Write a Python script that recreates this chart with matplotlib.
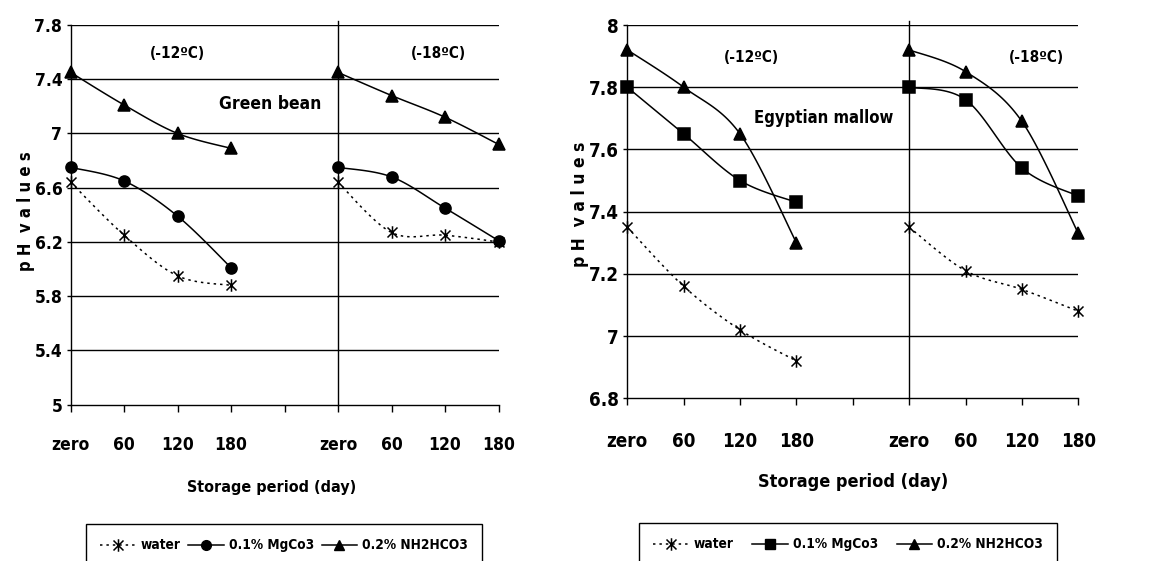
import numpy as np
import matplotlib
matplotlib.use("Agg")
import matplotlib.pyplot as plt
from matplotlib.path import Path
from matplotlib.lines import Line2D
from matplotlib import font_manager as fm

# ---------------- data ----------------
x_labels = ['zero', '60', '120', '180', '', 'zero', '60', '120', '180']
group_12_idx = [0, 1, 2, 3]
group_18_idx = [5, 6, 7, 8]
series_names = ['water', '0.1% MgCo3', '0.2% NH2HCO3']

# Green bean
gb_water_12 = [6.64, 6.25, 5.95, 5.88]
gb_water_18 = [6.64, 6.27, 6.25, 6.20]
gb_mg_12 = [6.75, 6.65, 6.39, 6.01]
gb_mg_18 = [6.75, 6.68, 6.45, 6.21]
gb_nh_12 = [7.45, 7.21, 7.00, 6.89]
gb_nh_18 = [7.45, 7.28, 7.12, 6.92]
gb_yticks = [5.0, 5.4, 5.8, 6.2, 6.6, 7.0, 7.4, 7.8]
gb_yticklabels = ['5', '5.4', '5.8', '6.2', '6.6', '7', '7.4', '7.8']

# Egyptian mallow
em_water_12 = [7.35, 7.16, 7.02, 6.92]
em_water_18 = [7.35, 7.21, 7.15, 7.08]
em_mg_12 = [7.80, 7.65, 7.50, 7.43]
em_mg_18 = [7.80, 7.76, 7.54, 7.45]
em_nh_12 = [7.92, 7.80, 7.65, 7.30]
em_nh_18 = [7.92, 7.85, 7.69, 7.33]
em_yticks = [6.8, 7.0, 7.2, 7.4, 7.6, 7.8, 8.0]
em_yticklabels = ['6.8', '7', '7.2', '7.4', '7.6', '7.8', '8']

# ---------------- font: prefer a narrow bold face ----------------
def pick_narrow():
    cands = []
    for f in fm.fontManager.ttflist:
        low = (f.fname + ' ' + f.name).lower()
        if ('narrow' in low or 'condensed' in low) and 'italic' not in low \
                and 'oblique' not in low and 'light' not in low:
            pri = 3
            if 'liberation' in low:
                pri = 0
            elif 'arial' in low:
                pri = 1
            elif 'dejavu' in low and 'sans' in low and 'mono' not in low:
                pri = 2
            boldness = 0 if 'bold' in low else 1
            cands.append((pri, boldness, f))
    if not cands:
        return None
    cands.sort(key=lambda c: (c[0], c[1]))
    return cands[0][2]

entry = pick_narrow()
if entry is not None:
    plt.rcParams['font.family'] = [entry.name, 'Liberation Sans', 'DejaVu Sans']
    plt.rcParams['font.stretch'] = entry.stretch
    SC = 1.0
else:
    plt.rcParams['font.family'] = ['Liberation Sans', 'DejaVu Sans']
    SC = 0.9
plt.rcParams['font.weight'] = 'bold'

# ---------------- helpers ----------------
W, H = 1149, 561
fig = plt.figure(figsize=(W / 100, H / 100), dpi=100)


def axrect(l, t, r, b):
    return [l / W, 1 - b / H, (r - l) / W, (b - t) / H]


def smooth(xs, ys, n=24):
    P = np.column_stack([xs, ys]).astype(float)
    out = [P[0]]
    for i in range(len(P) - 1):
        p0 = P[i - 1] if i > 0 else P[i]
        p1, p2 = P[i], P[i + 1]
        p3 = P[i + 2] if i + 2 < len(P) else P[i + 1]
        m1 = (p2 - p0) / 2
        m2 = (p3 - p1) / 2
        t = np.linspace(0, 1, n)[1:, None]
        h00 = 2 * t**3 - 3 * t**2 + 1
        h10 = t**3 - 2 * t**2 + t
        h01 = -2 * t**3 + 3 * t**2
        h11 = t**3 - t**2
        out.extend(h00 * p1 + h10 * m1 + h01 * p2 + h11 * m2)
    out = np.array(out)
    return out[:, 0], out[:, 1]


star = Path([(-1, -1), (1, 1), (-1, 1), (1, -1), (0, -1.25), (0, 1.25)],
            [Path.MOVETO, Path.LINETO] * 3)

water_style = dict(color='black', lw=1.1, ls=(0, (1.6, 2.6)))
solid_style = dict(color='black', lw=1.1, ls='-')


def draw_panel(rect, yticks, yticklabels, ylim, series, mid_marker,
               tick_fs, xpad, annotations, xlabel_pos, ylabel_pos, label_fs):
    ax = fig.add_axes(axrect(*rect))
    ax.set_xlim(0, len(x_labels) - 1)
    ax.set_ylim(*ylim)
    for s in ['top', 'right']:
        ax.spines[s].set_visible(False)
    for s in ['left', 'bottom']:
        ax.spines[s].set_linewidth(1.0)
    ax.set_yticks(yticks)
    ax.set_yticklabels(yticklabels, fontsize=tick_fs * SC, fontweight='bold')
    ax.set_xticks(range(len(x_labels)))
    ax.set_xticklabels(x_labels, fontsize=tick_fs * SC, fontweight='bold')
    ax.tick_params(axis='x', length=5, width=1, pad=xpad, direction='out')
    ax.tick_params(axis='y', length=3, width=1, pad=3, direction='out')
    for yv in yticks[1:]:
        ax.axhline(yv, color='black', lw=1.0, zorder=1)
    ax.axvline(group_18_idx[0], ymin=0, ymax=1.01, color='black', lw=1.0,
               clip_on=False, zorder=1)

    markers = [star, 'o', '^']
    msizes = [9, 8, 8.5]
    for k, (v12, v18) in enumerate(series):
        style = water_style if k == 0 else solid_style
        if k == 1:
            mk, ms = mid_marker
        else:
            mk, ms = markers[k], msizes[k]
        for idx, vals in ((group_12_idx, v12), (group_18_idx, v18)):
            sx, sy = smooth(idx, vals)
            ax.plot(sx, sy, zorder=3, **style)
            ax.plot(idx, vals, ls='none', marker=mk, ms=ms, color='black',
                    mfc='black' if k else 'none', mec='black', mew=1.1,
                    zorder=4, clip_on=False)

    for (tx, ty, txt, fs) in annotations:
        ax.text(tx, ty, txt, ha='center', va='center', fontsize=fs * SC,
                fontweight='bold')

    ax.set_xlabel('Storage period (day)', fontsize=label_fs[0] * SC, fontweight='bold')
    ax.xaxis.set_label_coords(*xlabel_pos)
    ax.xaxis.label.set_va('center')
    ax.set_ylabel('p H  v a l u e s', fontsize=label_fs[1] * SC, fontweight='bold')
    ax.yaxis.set_label_coords(*ylabel_pos)
    ax.yaxis.label.set_va('center')
    return ax


# Left panel: Green bean
draw_panel((70.7, 25, 498.5, 404.7), gb_yticks, gb_yticklabels, (5.0, 7.8),
           [(gb_water_12, gb_water_18), (gb_mg_12, gb_mg_18), (gb_nh_12, gb_nh_18)],
           ('o', 8), 12.5, 17.5,
           [(2.0, 7.59, '(-12ºC)', 11), (6.88, 7.59, '(-18ºC)', 11),
            (3.73, 7.22, 'Green bean', 12.5)],
           (0.47, -0.219), (-0.1045, 0.51), (11.5, 12))

# Right panel: Egyptian mallow
draw_panel((627.3, 25, 1078.3, 398.3), em_yticks, em_yticklabels, (6.8, 8.0),
           [(em_water_12, em_water_18), (em_mg_12, em_mg_18), (em_nh_12, em_nh_18)],
           ('s', 8), 13.5, 19,
           [(2.2, 7.894, '(-12ºC)', 11), (7.26, 7.894, '(-18ºC)', 11),
            (3.49, 7.70, 'Egyptian mallow', 12)],
           (0.50, -0.2234), (-0.105, 0.52), (13, 12.5))


# Legends (frames run off the bottom edge, as in the reference)
def make_handles(mid_marker):
    return [
        Line2D([], [], marker=star, ms=9, mfc='none', mec='black', mew=1.1, **water_style),
        Line2D([], [], marker=mid_marker, ms=7, mfc='black', mec='black', **solid_style),
        Line2D([], [], marker='^', ms=7.5, mfc='black', mec='black', **solid_style),
    ]


for (l, r, t, mk) in [(86, 482, 524, 'o'), (639, 1057, 523, 's')]:
    leg = fig.legend(make_handles(mk), series_names, loc='upper left',
                     bbox_to_anchor=(l / W, 1 - t / H - 0.2, (r - l) / W, 0.2),
                     mode='expand', ncol=3, borderaxespad=0, fancybox=False,
                     framealpha=1, edgecolor='black', handlelength=2.6,
                     handletextpad=0.35, columnspacing=0.9, borderpad=1.05,
                     prop={'weight': 'bold', 'size': 9.8 * SC}, numpoints=1)
    leg.get_frame().set_linewidth(1.0)

fig.savefig('out.png', dpi=100)
